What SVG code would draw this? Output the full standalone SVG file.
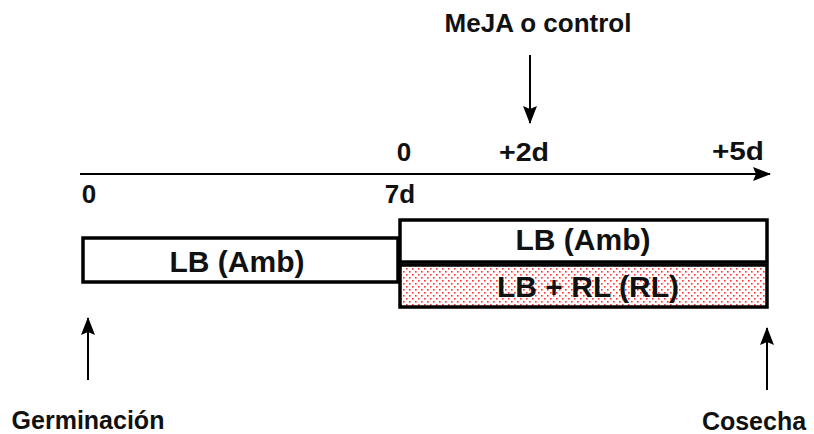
<svg xmlns="http://www.w3.org/2000/svg" width="814" height="434" viewBox="0 0 814 434">
<style>
.t{font-family:"Liberation Sans",Arial,sans-serif;font-weight:bold;fill:#111;text-anchor:middle}
.s{font-size:25px}
.m{font-size:26px}
.b{font-size:30px}
.box{stroke:#000;stroke-width:3.5}
.ln{stroke:#000;stroke-width:2;fill:none}
</style>
<defs>
<marker id="ah" markerUnits="userSpaceOnUse" viewBox="0 0 18 16" refX="17" refY="8" markerWidth="18" markerHeight="16" orient="auto">
<path d="M0,1 L18,8 L0,15 L3,8 z" fill="#000"/>
</marker>
<pattern id="dots" patternUnits="userSpaceOnUse" width="6" height="6">
<rect width="6" height="6" fill="#fff"/>
<rect x="1" y="1" width="1.6" height="1.6" fill="#f33"/>
<rect x="4" y="4" width="1.6" height="1.6" fill="#f33"/>
</pattern>
</defs>
<g id="connectors">
<line class="ln" x1="80" y1="174" x2="770" y2="174" marker-end="url(#ah)"/>
<line class="ln" x1="530" y1="55" x2="530" y2="123" marker-end="url(#ah)"/>
<line class="ln" x1="88" y1="380" x2="88" y2="318" marker-end="url(#ah)"/>
<line class="ln" x1="767" y1="390" x2="767" y2="328" marker-end="url(#ah)"/>
</g>
<g id="timeline-labels">
<text class="t m" x="538" y="32">MeJA o control</text>
<text class="t m" x="404" y="161">0</text>
<text class="t m" x="524" y="161" textLength="50" lengthAdjust="spacingAndGlyphs">+2d</text>
<text class="t m" x="738" y="160" textLength="52" lengthAdjust="spacingAndGlyphs">+5d</text>
<text class="t m" x="89" y="203">0</text>
<text class="t m" x="400" y="203">7d</text>
</g>
<g id="box-left">
<rect class="box" x="83" y="238" width="315" height="44" fill="#fff"/>
<text class="t b" x="237" y="272">LB (Amb)</text>
</g>
<g id="box-amb">
<rect class="box" x="400" y="220" width="367" height="42" fill="#fff"/>
<text class="t b" x="583" y="250">LB (Amb)</text>
</g>
<g id="box-rl">
<rect class="box" x="400" y="265" width="367" height="42" fill="url(#dots)"/>
<text class="t b" x="588" y="297">LB + RL (RL)</text>
</g>
<g id="germinacion">
<text class="t s" x="88" y="429">Germinación</text>
</g>
<g id="cosecha">
<text class="t s" x="754" y="430">Cosecha</text>
</g>
</svg>
